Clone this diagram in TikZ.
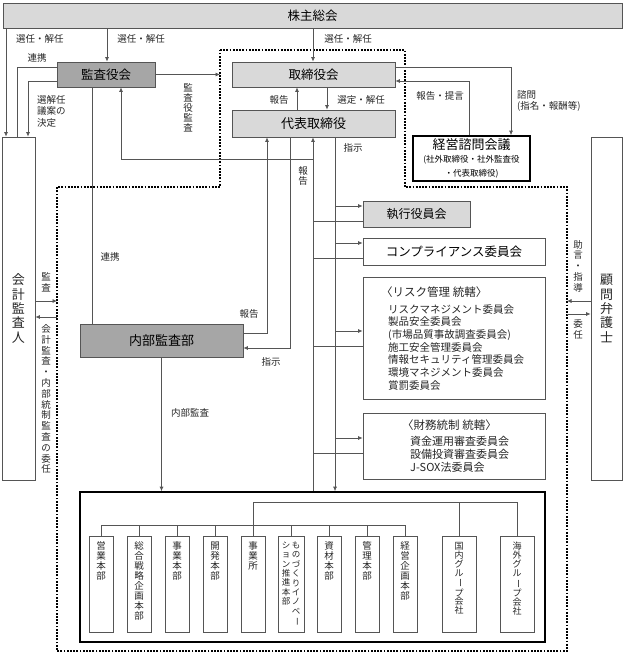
\documentclass[tikz,border=0pt]{standalone}
\usepackage{fontspec}
\setmainfont{Noto Sans CJK JP}
\usepackage{graphicx}
\usetikzlibrary{positioning, arrows.meta}

\definecolor{boxgray}{RGB}{217,217,217}
\definecolor{auditgray}{RGB}{166,166,166}
\definecolor{linegray}{RGB}{85,85,85}
\newcommand{\tbar}{\rotatebox[origin=c]{-90}{ー}}

\tikzset{
  box/.style={draw=linegray, line width=0.8pt, inner sep=0pt},
  organ/.style={box, fill=boxgray, font=\fontsize{12.5}{14}\selectfont},
  audit/.style={box, fill=auditgray, font=\fontsize{12.5}{14}\selectfont},
  conn/.style={draw=linegray, line width=0.7pt},
  lbl/.style={inner sep=0pt, text=black!85, font=\fontsize{9.5}{11}\selectfont},
  tate/.style={inner sep=0pt, align=center, text=black!85, font=\fontsize{9.5}{10}\selectfont},
  unit/.style={box, minimum width=24pt, minimum height=96pt},
  dotline/.style={line width=1.5pt, dash pattern=on 1.8pt off 1.4pt},
}

\begin{document}
\begin{tikzpicture}[>={Latex[length=4.5pt,width=4pt]}, x=1pt, y=-1pt]
\useasboundingbox (0,0) rectangle (625,655);

% dotted area of the board
\coordinate (d1) at (220,50);
\coordinate (d2) at (405,50);
\coordinate (d3) at (405,187);
\coordinate (d4) at (567,187);
\coordinate (d5) at (567,651);
\coordinate (d6) at (57,651);
\coordinate (d7) at (57,187);
\coordinate (d8) at (220,187);
\draw[dotline] (d1) -- (d2) -- (d3) -- (d4) -- (d5) -- (d6) -- (d7) -- (d8) -- cycle;

% top
\node[organ, minimum width=619pt, minimum height=25pt] (kabu) at (312.5,15.5) {株主総会};
\node[audit, minimum width=98pt, minimum height=25pt] (kansa) at (106,74.5) {監査役会};
\node[organ, minimum width=163pt, minimum height=25pt] (tori) at (313.5,74.5) {取締役会};
\node[organ, minimum width=163pt, minimum height=27pt, font=\fontsize{13}{15}\selectfont] (daihyo) at (313.5,123.5) {代表取締役};
\node[box, draw=black, line width=1.6pt, minimum width=117pt, minimum height=45pt, align=center, font=\fontsize{13}{14}\selectfont] (shimon) at (471.5,158.5)
  {経営諮問会議\\[-1pt]\fontsize{8.5}{12}\selectfont (社外取締役・社外監査役\\\fontsize{8.5}{12}\selectfont ・代表取締役)};

% sides
\node[box, tate, font=\fontsize{13}{14.3}\selectfont, minimum width=33pt, minimum height=343pt] (kaikei) at (18.5,308.5) {会\\計\\監\\査\\人};
\node[box, tate, font=\fontsize{13}{14.3}\selectfont, minimum width=31pt, minimum height=343pt] (bengo) at (606.5,308.5) {顧\\問\\弁\\護\\士};

% committees
\node[organ, minimum width=107pt, minimum height=26pt, font=\fontsize{12}{14}\selectfont] (shikko) at (416.5,214) {執行役員会};
\node[box, minimum width=182pt, minimum height=27pt, font=\fontsize{12.5}{14}\selectfont] (comp) at (454,251.5) {コンプライアンス委員会};
\node[box, minimum width=182pt, minimum height=122pt] (risk) at (454,338) {};
\node[lbl, anchor=west, font=\fontsize{11.5}{13}\selectfont] (riskT) at (381,292) {〈リスク管理 統轄〉};
\node[lbl, anchor=north west, align=left, font=\fontsize{10.5}{12.7}\selectfont] (riskL) at (388,304)
  {リスクマネジメント委員会\\製品安全委員会\\(市場品質事故調査委員会)\\施工安全管理委員会\\情報セキュリティ管理委員会\\環境マネジメント委員会\\賞罰委員会};
\node[box, minimum width=182pt, minimum height=66pt] (zaimu) at (454,446) {};
\node[lbl, anchor=west, font=\fontsize{11.5}{13}\selectfont] (zaimuT) at (402,425) {〈財務統制 統轄〉};
\node[lbl, anchor=north west, align=left, font=\fontsize{11}{13}\selectfont] (zaimuL) at (410,436.5)
  {資金運用審査委員会\\設備投資審査委員会\\J-SOX法委員会};

\node[audit, minimum width=163pt, minimum height=33pt, font=\fontsize{13}{15}\selectfont] (naibu) at (161.5,340.5) {内部監査部};

% divisions
\node[box, draw=black, line width=1.6pt, minimum width=465pt, minimum height=150pt] (honbu) at (312.5,567) {};
\foreach \i/\cx/\t in {1/101/{営\\業\\本\\部}, 2/139/{総\\合\\戦\\略\\企\\画\\本\\部}, 3/177/{事\\業\\本\\部},
    4/215/{開\\発\\本\\部}, 5/253/{事\\業\\所}, 7/329/{資\\材\\本\\部}, 8/367/{管\\理\\本\\部}, 9/405/{経\\営\\企\\画\\本\\部}} {
  \node[unit] (u\i) at (\cx,584) {};
  \node[tate, below=6pt of u\i.north] (t\i) {\t};
}
\node[unit, minimum width=26pt] (u6) at (291,584) {};
\node[tate, anchor=north, font=\fontsize{8.5}{9.4}\selectfont] (t6a) at ([xshift=5pt,yshift=-6pt]u6.north) {も\\の\\づ\\く\\り\\イ\\ノ\\ベ\\\tbar};
\node[tate, anchor=north, font=\fontsize{8.5}{9.4}\selectfont] (t6b) at ([xshift=-5pt,yshift=-6pt]u6.north) {シ\\ョ\\ン\\推\\進\\本\\部};
\node[unit, minimum width=34pt] (g1) at (459,584.5) {};
\node[unit, minimum width=34pt] (g2) at (517,584.5) {};
\node[tate, below=6pt of g1.north, font=\fontsize{9}{8.9}\selectfont] (tg1) {国\\内\\グ\\ル\\\tbar\\プ\\会\\社};
\node[tate, below=6pt of g2.north, font=\fontsize{9}{8.9}\selectfont] (tg2) {海\\外\\グ\\ル\\\tbar\\プ\\会\\社};

\draw[conn] (u1.north |- 0,525) -- (u9.north |- 0,525);
\foreach \i in {1,...,9} \draw[conn] (u\i.north) -- (u\i.north |- 0,525);
\draw[conn] (u5.north) |- (g2.north |- 0,502);
\draw[conn] (g1.north) -- (g1.north |- 0,502);
\draw[conn] (g2.north) -- (g2.north |- 0,502);

% connectors
\draw[conn,->] (kabu.south -| 6,0) -- (kaikei.north -| 6,0);
\draw[conn,->] (kabu.south -| 107,0) -- (kansa.north -| 107,0);
\draw[conn,->] (kabu.south -| 313,0) -- (tori.north -| 313,0);
\draw[conn] (kansa.west |- 0,67) -| (kaikei.north -| 17,0);
\draw[conn,->] (kansa.west |- 0,81) -| (kaikei.north -| 28,0);
\draw[conn,->] (kansa.east) -- (kansa.east -| d1);
\draw[conn,->] (daihyo.north -| 297,0) -- (tori.south -| 297,0);
\draw[conn,->] (tori.south -| 327,0) -- (daihyo.north -| 327,0);
\draw[conn,->] (tori.east |- 0,67) -| (shimon.north -| 511,0);
\draw[conn,->] (shimon.north -| 469,0) |- (tori.east |- 0,81);
\draw[conn,->] (daihyo.south -| 290,0) |- (naibu.east |- 0,348);
\draw[conn,->] (naibu.east |- 0,333) -| (daihyo.south -| 267,0);
\draw[conn] (kansa.south -| 92,0) -- (naibu.north -| 92,0);
\draw[conn,->] (naibu.south) -- (naibu.south |- honbu.north);
\draw[conn,->] (daihyo.south -| 335,0) -- (honbu.north -| 335,0);
\draw[conn,->] (honbu.north -| 313,0) -- (daihyo.south -| 313,0);
\draw[conn,->] (313,159) -| (kansa.south -| 121,0);
\foreach \n/\ya/\yb in {shikko/206/221, comp/243/258, risk/331/346, zaimu/438/453} {
  \draw[conn,->] (335,\ya) -- (\n.west |- 0,\ya);
  \draw[conn] (\n.west |- 0,\yb) -- (313,\yb);
}
\draw[conn,->] (kaikei.east |- 0,301) -- (d7 |- 0,301);
\draw[conn,->] (d7 |- 0,317) -- (kaikei.east |- 0,317);
\draw[conn,->] (bengo.west |- 0,301) -- (d4 |- 0,301);
\draw[conn,->] (d4 |- 0,314) -- (bengo.west |- 0,314);

% labels
\node[lbl] (sel1) at (40,39) {選任・解任};
\node[lbl] (sel2) at (141,39) {選任・解任};
\node[lbl] (sel3) at (348,39) {選任・解任};
\node[lbl] (renkei1) at (37,58) {連携};
\node[lbl, anchor=north west, align=left, font=\fontsize{9.5}{11.5}\selectfont] (gian) at (37,95) {選解任\\議案の\\決定};
\node[tate] (kansaV) at (188,108) {監\\査\\役\\監\\査};
\node[lbl] (hokoku1) at (279,100) {報告};
\node[lbl] (sentei) at (361,100) {選定・解任};
\node[lbl] (teigen) at (440,96) {報告・提言};
\node[lbl, anchor=west, align=left] (shimonL) at (517,101) {諮問\\(指名・報酬等)};
\node[tate] (hokoku2) at (303,176) {報\\告};
\node[lbl] (shiji1) at (353,148) {指示};
\node[lbl] (renkei2) at (110,257) {連携};
\node[lbl] (hokoku3) at (249,314) {報告};
\node[lbl] (shiji2) at (271,362) {指示};
\node[lbl] (naibuL) at (190,413) {内部監査};
\node[tate, font=\fontsize{9.5}{10.8}\selectfont] (kansa2) at (46,282) {監\\査};
\node[tate, font=\fontsize{9.5}{10.8}\selectfont] (inin1) at (46,399) {会\\計\\監\\査\\・\\内\\部\\統\\制\\監\\査\\の\\委\\任};
\node[tate, font=\fontsize{9.5}{10.8}\selectfont] (jogen) at (578,266) {助\\言\\・\\指\\導};
\node[tate, font=\fontsize{9.5}{10.8}\selectfont] (inin2) at (578,329) {委\\任};

\end{tikzpicture}
\end{document}
